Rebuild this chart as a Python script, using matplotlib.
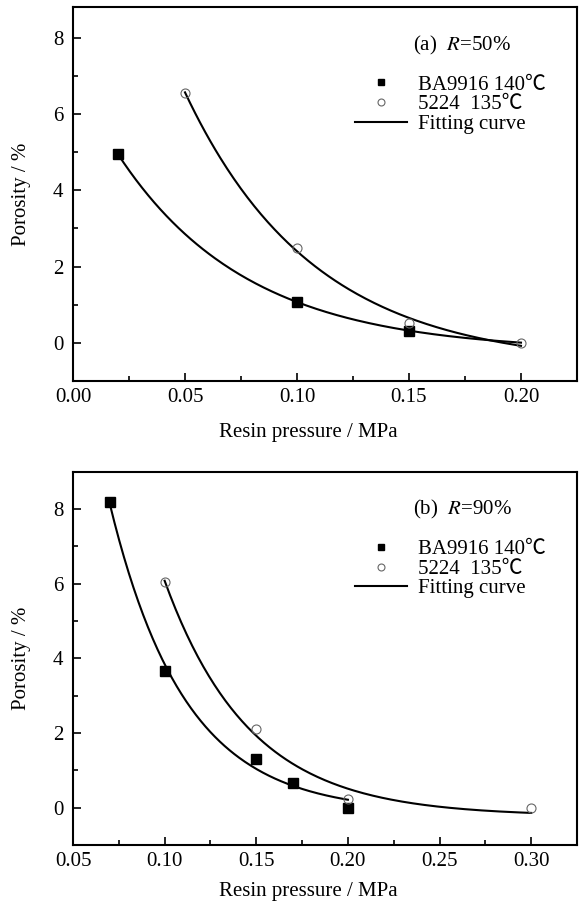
import numpy as np
import matplotlib.pyplot as plt
from matplotlib.ticker import MultipleLocator, FormatStrFormatter

plt.rcParams['font.family'] = ['Liberation Serif', 'Noto Sans CJK SC', 'DejaVu Serif']
plt.rcParams['mathtext.fontset'] = 'stix'

# (a) R=50%
a_ba_x = [0.02, 0.10, 0.15]
a_ba_y = [4.95, 1.07, 0.32]
a_52_x = [0.05, 0.10, 0.15, 0.20]
a_52_y = [6.55, 2.48, 0.51, 0.0]
a_ba_range = (0.02, 0.20)
a_52_range = (0.05, 0.20)

# (b) R=90%
b_ba_x = [0.07, 0.10, 0.15, 0.17, 0.20]
b_ba_y = [8.2, 3.67, 1.31, 0.65, 0.0]
b_52_x = [0.10, 0.15, 0.20, 0.30]
b_52_y = [6.05, 2.1, 0.22, 0.0]
b_ba_range = (0.07, 0.20)
b_52_range = (0.10, 0.30)

fs = 15


def fit_exp(x, y):
    # y = A*exp(-x/t) + y0, grid on t, least squares for A, y0
    x = np.asarray(x); y = np.asarray(y)
    best = None
    for t in np.linspace(0.005, 0.6, 4000):
        M = np.column_stack([np.exp(-x / t), np.ones_like(x)])
        coef, *_ = np.linalg.lstsq(M, y, rcond=None)
        r = np.sum((M @ coef - y) ** 2)
        if best is None or r < best[0]:
            best = (r, t, coef)
    _, t, (A, y0) = best
    return lambda xx: A * np.exp(-xx / t) + y0


def panel(ax, bx, by, cx, cy, br, cr, tag, xlim, ylim, xmaj, xlab_y):
    for px, py, rng in [(bx, by, br), (cx, cy, cr)]:
        f = fit_exp(px, py)
        xx = np.linspace(rng[0], rng[1], 200)
        ax.plot(xx, f(xx), color='black', lw=1.5, zorder=2)
    ax.plot(bx, by, 's', color='black', ms=6.5, zorder=3)
    ax.plot(cx, cy, 'o', mfc='none', mec='#666666', mew=0.8, ms=6.5, zorder=3)

    h1, = ax.plot([], [], 's', color='black', ms=5, label='BA9916 140\u2103')
    h2, = ax.plot([], [], 'o', mfc='none', mec='#666666', mew=0.8, ms=5, label='5224  135\u2103')
    h3, = ax.plot([], [], '-', color='black', lw=1.5, label='Fitting curve')
    ax.legend(handles=[h1, h2, h3], loc='upper left', bbox_to_anchor=(0.543, 0.84),
              frameon=False, fontsize=fs, handlelength=2.5, handletextpad=0.5,
              labelspacing=0.0, borderaxespad=0)
    ax.text(0.675, 0.898, tag, transform=ax.transAxes, fontsize=fs, va='center')

    ax.set_xlim(*xlim)
    ax.set_ylim(*ylim)
    ax.xaxis.set_major_locator(MultipleLocator(xmaj))
    ax.xaxis.set_minor_locator(MultipleLocator(xmaj / 2))
    ax.xaxis.set_major_formatter(FormatStrFormatter('%.2f'))
    ax.yaxis.set_major_locator(MultipleLocator(2))
    ax.yaxis.set_minor_locator(MultipleLocator(1))
    ax.tick_params(which='both', direction='in', labelsize=fs, width=1.2)
    ax.tick_params(which='major', length=6)
    ax.tick_params(which='minor', length=3.5)
    ax.tick_params(axis='y', pad=7)
    ax.tick_params(axis='x', pad=5)
    for s in ax.spines.values():
        s.set_linewidth(1.5)
    ax.set_xlabel('Resin pressure / MPa', fontsize=fs)
    ax.xaxis.set_label_coords(0.467, xlab_y)
    ax.set_ylabel('Porosity / %', fontsize=fs)
    ax.yaxis.set_label_coords(-0.083, 0.5)


fig = plt.figure(figsize=(5.85, 9.02), dpi=100)
ax1 = fig.add_axes([0.1248, 0.5776, 0.8615, 0.4146])
ax2 = fig.add_axes([0.1248, 0.0632, 0.8615, 0.4139])

panel(ax1, a_ba_x, a_ba_y, a_52_x, a_52_y, a_ba_range, a_52_range,
      r'(a)  $\mathit{R}$=50%', (0, 0.225), (-1, 8.8), 0.05, -0.113)
panel(ax2, b_ba_x, b_ba_y, b_52_x, b_52_y, b_ba_range, b_52_range,
      r'(b)  $\mathit{R}$=90%', (0.05, 0.325), (-1, 9), 0.05, -0.1)

fig.savefig('out.png', dpi=100)
